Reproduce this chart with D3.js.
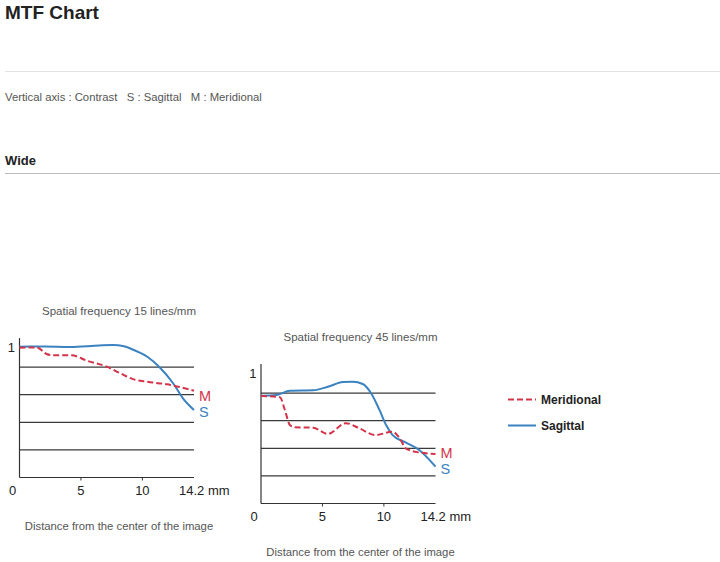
<!DOCTYPE html>
<html>
<head>
<meta charset="utf-8">
<script src="https://cdn.jsdelivr.net/npm/d3@7"></script>
<style>
  body { margin: 0; background: #fff; }
  svg { display: block; font-family: "Liberation Sans", Arial, sans-serif; }
</style>
</head>
<body>
<svg id="mtf" width="720" height="562"></svg>
<script>
// distance from image centre (mm) and contrast
const xTickValues = [0, 5, 10, 14.2];
const xTickLabels = ["0", "5", "10", "14.2 mm"];
const gridValues = [0.2, 0.4, 0.6, 0.8];

const sag15Dist = [0, 2, 4.1, 6.5, 7.6, 8.5, 9.3, 10.4, 11.4, 12.5, 13.3, 14.2];
const sag15 = [0.948, 0.949, 0.946, 0.957, 0.96, 0.951, 0.924, 0.875, 0.799, 0.683, 0.574, 0.489];
const mer15Dist = [0, 1.4, 2.2, 2.75, 4.25, 5.5, 7.1, 8.2, 9.3, 10.4, 12, 14.2];
const mer15 = [0.94, 0.943, 0.895, 0.885, 0.885, 0.846, 0.803, 0.755, 0.711, 0.694, 0.675, 0.629];

const sag45Dist = [0, 1.27, 2.35, 4.24, 5.45, 6.66, 7.47, 8.28, 8.96, 9.64, 10.18, 10.71, 11.8, 12.87, 14.2];
const sag45 = [0.781, 0.786, 0.817, 0.82, 0.846, 0.88, 0.883, 0.866, 0.799, 0.678, 0.569, 0.496, 0.441, 0.388, 0.267];
const mer45Dist = [0, 1.54, 1.94, 2.35, 2.75, 4.24, 5.45, 6.9, 7.98, 9.29, 10.71, 11.25, 11.8, 12.87, 14.2];
const mer45 = [0.779, 0.77, 0.678, 0.569, 0.552, 0.549, 0.504, 0.582, 0.546, 0.496, 0.52, 0.478, 0.398, 0.37, 0.359];

const RED = "#d3344a";
const BLUE = "#3b82c0";
const GREY = "#555";

const svg = d3.select("#mtf");

// page header
svg.append("text").attr("x", 5).attr("y", 19)
  .style("font-size", "19px").style("font-weight", "bold").attr("fill", "#222")
  .text("MTF Chart");
svg.append("line").attr("x1", 5).attr("x2", 720).attr("y1", 71.5).attr("y2", 71.5)
  .attr("stroke", "#e2e2e2");
svg.append("text").attr("x", 5).attr("y", 100.5)
  .style("font-size", "11.3px").style("white-space", "pre").attr("fill", GREY)
  .text("Vertical axis : Contrast   S : Sagittal   M : Meridional");
svg.append("text").attr("x", 5).attr("y", 165)
  .style("font-size", "13px").style("font-weight", "bold").attr("fill", "#222")
  .text("Wide");
svg.append("line").attr("x1", 5).attr("x2", 720).attr("y1", 173.5).attr("y2", 173.5)
  .attr("stroke", "#bbb");

function drawPanel(left, bottom, title, sDist, sVals, mDist, mVals) {
  const x = d3.scaleLinear().domain([0, 14.2]).range([left, left + 174.5]);
  const y = d3.scaleLinear().domain([0, 1]).range([bottom, bottom - 138]);
  const g = svg.append("g");

  g.selectAll(".grid").data(gridValues).enter().append("line")
    .attr("x1", x(0)).attr("x2", x(14.2))
    .attr("y1", (d) => y(d)).attr("y2", (d) => y(d))
    .attr("stroke", "#3a3a3a").attr("stroke-width", 1.2);

  // axes
  g.append("line").attr("x1", x(0)).attr("x2", x(0)).attr("y1", y(0)).attr("y2", y(1.01))
    .attr("stroke", "#333").attr("stroke-width", 1.2);
  g.append("line").attr("x1", x(0)).attr("x2", x(14.2)).attr("y1", y(0)).attr("y2", y(0))
    .attr("stroke", "#333").attr("stroke-width", 1.2);
  g.selectAll(".tick").data([5, 10]).enter().append("line")
    .attr("x1", (d) => x(d)).attr("x2", (d) => x(d))
    .attr("y1", y(0)).attr("y2", y(0) + 3)
    .attr("stroke", "#333");

  g.selectAll(".tl").data(xTickValues).enter().append("text")
    .attr("x", (d, i) => i === 0 ? x(d) - 7 : i === 3 ? x(d) - 15 : x(d))
    .attr("y", y(0) + 17)
    .attr("text-anchor", (d, i) => i === 3 ? "start" : "middle")
    .style("font-size", "13px").attr("fill", "#222")
    .text((d, i) => xTickLabels[i]);

  g.append("text").attr("x", x(0) - 4.5).attr("y", y(1) + 12.5)
    .attr("text-anchor", "end").style("font-size", "13px").attr("fill", "#222")
    .text("1");

  g.append("text").attr("x", left + 99.5).attr("y", y(1) - 24.5)
    .attr("text-anchor", "middle").style("font-size", "11.5px").attr("fill", GREY)
    .text(title);
  g.append("text").attr("x", left + 99.5).attr("y", y(0) + 52)
    .attr("text-anchor", "middle").style("font-size", "11.3px").attr("fill", GREY)
    .text("Distance from the center of the image");

  const line = d3.line().curve(d3.curveMonotoneX)
    .x((d) => x(d[0])).y((d) => y(d[1]));

  g.append("path").datum(sDist.map((d, i) => [d, sVals[i]]))
    .attr("d", line).attr("fill", "none")
    .attr("stroke", BLUE).attr("stroke-width", 2);
  g.append("path").datum(mDist.map((d, i) => [d, mVals[i]]))
    .attr("d", line).attr("fill", "none")
    .attr("stroke", RED).attr("stroke-width", 2).attr("stroke-dasharray", "6,3");

  // end labels, M kept clear of S
  const sY = y(sVals[sVals.length - 1]) + 7;
  const mY = Math.min(y(mVals[mVals.length - 1]) + 10, sY - 15.5);
  g.append("text").attr("x", x(14.2) + 5).attr("y", mY)
    .style("font-size", "14.5px").attr("fill", RED).text("M");
  g.append("text").attr("x", x(14.2) + 5).attr("y", sY)
    .style("font-size", "14.5px").attr("fill", BLUE).text("S");
}

drawPanel(19.5, 477.5, "Spatial frequency 15 lines/mm", sag15Dist, sag15, mer15Dist, mer15);
drawPanel(261, 503.5, "Spatial frequency 45 lines/mm", sag45Dist, sag45, mer45Dist, mer45);

// legend
const legendItems = [
  { name: "Meridional", color: RED, dash: "6,3" },
  { name: "Sagittal", color: BLUE, dash: null }
];
const leg = svg.selectAll(".leg").data(legendItems).enter().append("g")
  .attr("transform", (d, i) => `translate(508,${399.5 + i * 26})`);
leg.append("line").attr("x1", 0).attr("x2", 28)
  .attr("stroke", (d) => d.color).attr("stroke-width", 2)
  .attr("stroke-dasharray", (d) => d.dash);
leg.append("text").attr("x", 33).attr("y", 4.5)
  .style("font-size", "12px").style("font-weight", "bold").attr("fill", "#222")
  .text((d) => d.name);
</script>
</body>
</html>
